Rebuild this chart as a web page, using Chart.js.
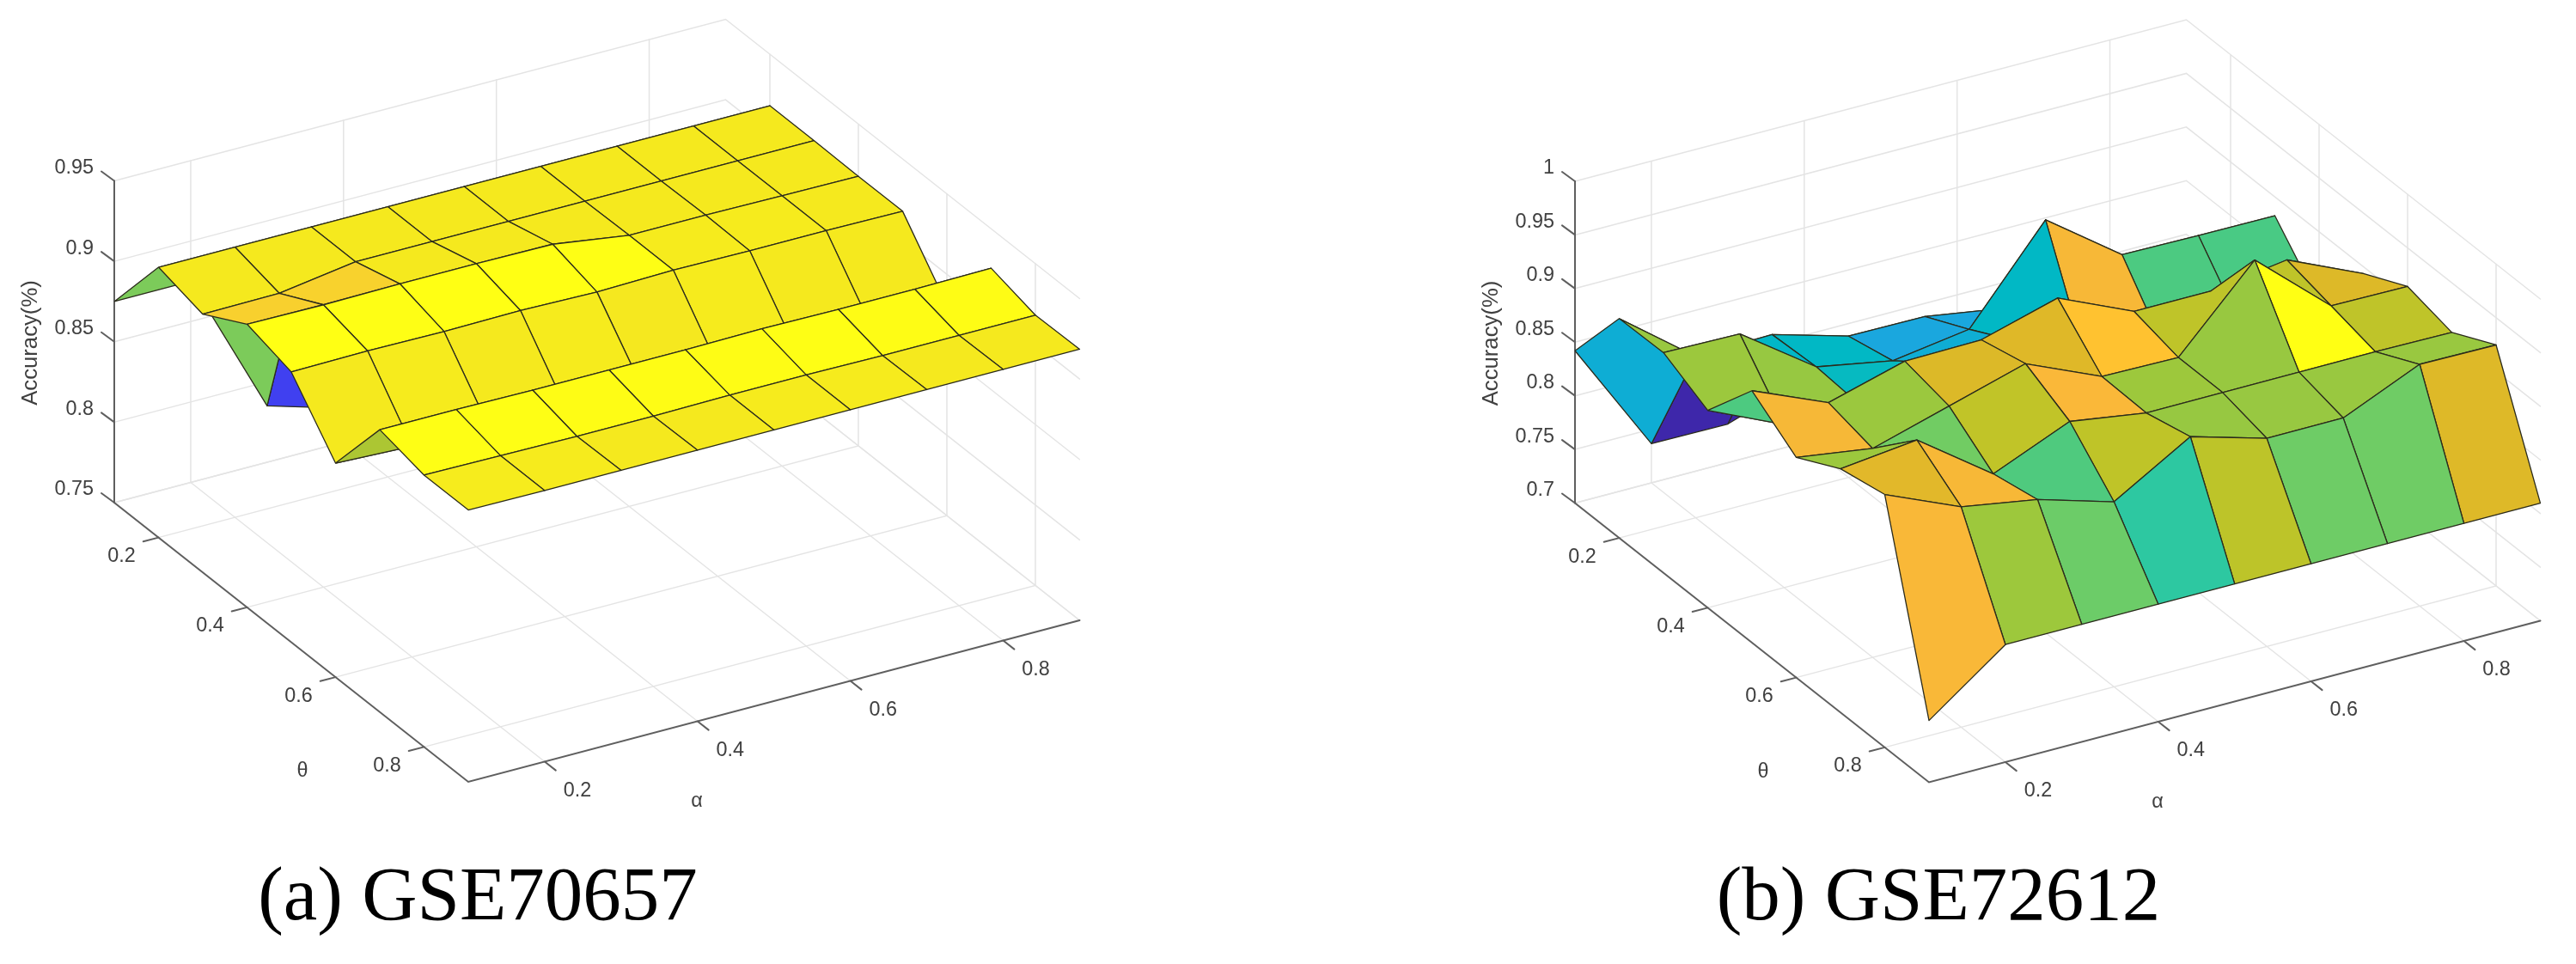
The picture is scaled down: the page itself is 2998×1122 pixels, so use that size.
<!DOCTYPE html>
<html>
<head>
<meta charset="utf-8">
<title>Accuracy surfaces</title>
<script src="https://cdn.jsdelivr.net/npm/chart.js@4"></script>
<style>
  html, body { margin: 0; background: #fff; overflow: hidden; width: 2998px; height: 1122px; }
  canvas { position: absolute; top: 0; }
</style>
</head>
<body>
<canvas id="chartA" width="1500" height="1122" style="left:-194px"></canvas>
<canvas id="chartB" width="1484" height="1122" style="left:1514px"></canvas>
<script>
const alphaValues = [0.1, 0.2, 0.3, 0.4, 0.5, 0.6, 0.7, 0.8, 0.9];
const thetaValues = [0.1, 0.2, 0.3, 0.4, 0.5, 0.6, 0.7, 0.8, 0.9];
const planeTicks = [0.2, 0.4, 0.6, 0.8];
const accuracyTicksA = [0.75, 0.8, 0.85, 0.9, 0.95];
const accuracyTicksB = [0.7, 0.75, 0.8, 0.85, 0.9, 0.95, 1];

// one row per theta, one value per alpha
const accuracyA = [
  [0.875, 0.875, 0.785, 0.771, 0.84, 0.85, 0.86, 0.87, 0.874],
  [0.918, 0.918, 0.918, 0.918, 0.918, 0.918, 0.918, 0.918, 0.918],
  [0.9105, 0.911, 0.918, 0.918, 0.918, 0.918, 0.918, 0.918, 0.918],
  [0.926, 0.9255, 0.926, 0.926, 0.9255, 0.9185, 0.9185, 0.918, 0.9175],
  [0.918, 0.9185, 0.918, 0.9185, 0.9175, 0.9185, 0.918, 0.918, 0.9175],
  [0.883, 0.881, 0.881, 0.881, 0.881, 0.881, 0.881, 0.881, 0.881],
  [0.9255, 0.9255, 0.925, 0.925, 0.925, 0.9255, 0.925, 0.925, 0.9255],
  [0.919, 0.9185, 0.918, 0.918, 0.9185, 0.9185, 0.918, 0.918, 0.918],
  [0.919, 0.9185, 0.9185, 0.9185, 0.9185, 0.9185, 0.9185, 0.9185, 0.9185]
];
const accuracyB = [
  [0.842, 0.7365, 0.736, 0.76, 0.76, 0.76, 0.76, 0.76, 0.76],
  [0.9045, 0.8505, 0.852, 0.8317, 0.8312, 0.8197, 0.82, 0.82, 0.82],
  [0.9053, 0.904, 0.8544, 0.8413, 0.8518, 0.935, 0.8838, 0.8828, 0.8824],
  [0.884, 0.852, 0.851, 0.872, 0.874, 0.824, 0.825, 0.828, 0.834],
  [0.9349, 0.905, 0.9248, 0.9259, 0.946, 0.9147, 0.9147, 0.9251, 0.8935],
  [0.9052, 0.8948, 0.9155, 0.9362, 0.9054, 0.9043, 0.9764, 0.9148, 0.914],
  [0.9272, 0.9352, 0.8848, 0.9149, 0.904, 0.9042, 0.9044, 0.9045, 0.9038],
  [0.9358, 0.9054, 0.8934, 0.8725, 0.9144, 0.894, 0.8942, 0.9254, 0.9246],
  [0.7576, 0.8096, 0.8096, 0.8096, 0.8096, 0.8096, 0.8096, 0.8096, 0.8096]
];

const colorStops = [
  [0, "#3e26a8"], [0.09, "#4040f0"], [0.25, "#2a80f0"], [0.4, "#1aa8de"],
  [0.44, "#0eadd4"], [0.48, "#00b8c6"], [0.57, "#2ec8a0"], [0.61, "#48ca84"],
  [0.655, "#6ccc68"], [0.705, "#9dc83c"], [0.745, "#c0c428"], [0.79, "#dfb828"],
  [0.835, "#fbb83a"], [0.875, "#ffc230"], [0.9, "#f8d02e"], [0.948, "#f5e91e"],
  [1, "#ffff14"]
];

function hexToRgb(h) {
  return [1, 3, 5].map((i) => parseInt(h.slice(i, i + 2), 16));
}

function colormap(t) {
  for (let i = 1; i < colorStops.length; i++) {
    if (t <= colorStops[i][0]) {
      let [t0, c0] = colorStops[i - 1];
      let [t1, c1] = colorStops[i];
      let f = (t - t0) / (t1 - t0);
      let a = hexToRgb(c0), b = hexToRgb(c1);
      return "rgb(" + a.map((v, k) => Math.round(v + (b[k] - v) * f)).join(",") + ")";
    }
  }
  return colorStops[colorStops.length - 1][1];
}

// view of the box: orthographic, same angle for both panels
function makeView(originX, originY, zTicks) {
  let zLo = zTicks[0], zHi = zTicks[zTicks.length - 1];
  return (a, t, z) => {
    let u = (a - 0.1) / 0.8, v = (t - 0.1) / 0.8, w = (z - zLo) / (zHi - zLo);
    return {
      x: originX + 711.5 * u + 412 * v,
      y: originY - 188 * u + 325 * v - 374.5 * w,
    };
  };
}

function lineSet(points, color, width) {
  return { data: points, showLine: true, fill: false, borderColor: color, borderWidth: width, pointRadius: 0, borderCapStyle: "round" };
}

function buildDatasets(view, zTicks, values) {
  let zLo = zTicks[0], zHi = zTicks[zTicks.length - 1];
  let list = [];
  let gridColor = "#e4e4e4", axisColor = "#5f5f5f";

  // walls and floor
  for (let z of zTicks) {
    list.push(lineSet([view(0.1, 0.1, z), view(0.9, 0.1, z), view(0.9, 0.9, z)], gridColor, 1.5));
  }
  for (let p of planeTicks) {
    list.push(lineSet([view(p, 0.1, zHi), view(p, 0.1, zLo), view(p, 0.9, zLo)], gridColor, 1.5));
    list.push(lineSet([view(0.1, p, zLo), view(0.9, p, zLo), view(0.9, p, zHi)], gridColor, 1.5));
  }
  list.push(lineSet([view(0.1, 0.1, zLo), view(0.9, 0.1, zLo), view(0.9, 0.9, zLo)], gridColor, 1.5));

  // axes and tick marks
  list.push(lineSet([view(0.1, 0.1, zHi), view(0.1, 0.1, zLo), view(0.1, 0.9, zLo), view(0.9, 0.9, zLo)], axisColor, 2));
  for (let z of zTicks) {
    list.push(lineSet([view(0.1, 0.1, z), view(0.1, 0.1 - 0.023, z + 0), { x: view(0.1, 0.1, z).x - 15, y: view(0.1, 0.1, z).y - 11 }].filter((_, i) => i != 1), axisColor, 2));
  }
  for (let p of planeTicks) {
    list.push(lineSet([view(0.1, p, zLo), view(0.1 - 0.02, p, zLo)], axisColor, 2));
    list.push(lineSet([view(p, 0.9, zLo), view(p, 0.9 + 0.025, zLo)], axisColor, 2));
  }

  // surface, back cell first; a cell takes its colour from its lowest-index corner
  let flat = values.flat();
  let cMin = Math.min(...flat), cMax = Math.max(...flat);
  for (let j = 0; j < thetaValues.length - 1; j++) {
    for (let i = alphaValues.length - 2; i >= 0; i--) {
      let corners = [[i, j], [i + 1, j], [i + 1, j + 1], [i, j + 1], [i, j]];
      list.push({
        data: corners.map(([c, r]) => view(alphaValues[c], thetaValues[r], values[r][c])),
        showLine: true,
        fill: "shape",
        backgroundColor: colormap((values[j][i] - cMin) / (cMax - cMin)),
        borderColor: "#2b2b1c",
        borderWidth: 1.3,
        borderJoinStyle: "round",
        pointRadius: 0,
      });
    }
  }
  // chart.js paints the last dataset first
  return list.reverse();
}

const tickLabels = {
  id: "tickLabels",
  afterDraw(chart, args, opts) {
    let { ctx, scales } = chart;
    let view = opts.view;
    let zLo = opts.zTicks[0];
    let put = (text, p, dx, dy, align) => {
      ctx.textAlign = align || "center";
      ctx.fillText(text, scales.x.getPixelForValue(p.x + dx), scales.y.getPixelForValue(p.y + dy));
    };
    ctx.save();
    ctx.fillStyle = "#404040";
    ctx.textBaseline = "middle";
    ctx.font = "23.4px 'Liberation Sans'";
    for (let z of opts.zTicks) put(String(z), view(0.1, 0.1, z), -24, -15, "right");
    for (let p of planeTicks) {
      put(String(p), view(0.1, p, zLo), -43, 22);
      put(String(p), view(p, 0.9, zLo), 38, 34);
    }
    let corner = view(0.1, 0.9, zLo);
    put("θ", corner, -193, -12);
    put("α", corner, 266, 23);
    let top = view(0.1, 0.1, zLo);
    ctx.font = "25.7px 'Liberation Sans'";
    ctx.translate(scales.x.getPixelForValue(top.x - 97), scales.y.getPixelForValue(top.y - 186));
    ctx.rotate(-Math.PI / 2);
    ctx.textAlign = "center";
    ctx.fillText("Accuracy(%)", 0, 0);
    ctx.restore();
  },
};

function drawPanel(id, xMin, xMax, originX, originY, zTicks, values, caption) {
  let view = makeView(originX, originY, zTicks);
  new Chart(document.getElementById(id), {
    type: "scatter",
    data: { datasets: buildDatasets(view, zTicks, values) },
    options: {
      responsive: false,
      animation: false,
      events: [],
      scales: {
        x: { type: "linear", min: xMin, max: xMax, display: false },
        y: { type: "linear", min: 0, max: 1002, reverse: true, display: false },
      },
      plugins: {
        legend: { display: false },
        tooltip: { enabled: false },
        title: {
          display: true,
          position: "bottom",
          text: caption,
          color: "#000",
          font: { family: "'Liberation Serif'", size: 89, weight: "normal", lineHeight: 1 },
          padding: { top: 0, bottom: 31 },
        },
        tickLabels: { view: view, zTicks: zTicks },
      },
    },
    plugins: [tickLabels],
  });
}

drawPanel("chartA", -194, 1306, 133, 585, accuracyTicksA, accuracyA, "(a) GSE70657");
drawPanel("chartB", 1514, 2998, 1833, 585.5, accuracyTicksB, accuracyB, "(b) GSE72612");
</script>
</body>
</html>
